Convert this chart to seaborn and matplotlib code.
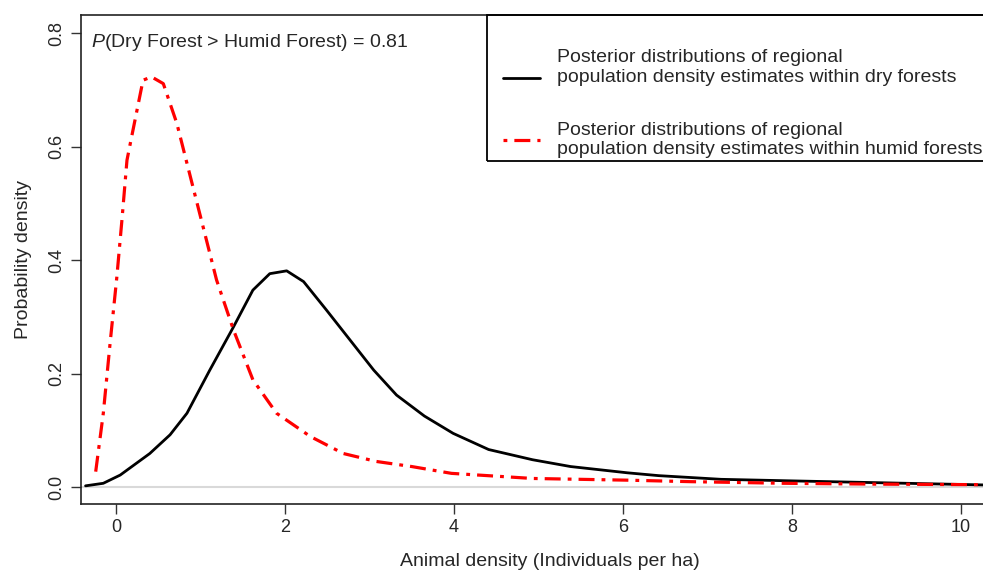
import numpy as np
import pandas as pd
import seaborn as sns
import matplotlib.pyplot as plt
from matplotlib.patches import Rectangle
from matplotlib.lines import Line2D
from matplotlib.legend_handler import HandlerLine2D

# posterior density curves
dry_x = [-0.36, -0.15, 0.05, 0.40, 0.64, 0.84, 1.11, 1.39, 1.62, 1.82, 2.02, 2.22,
         2.49, 2.77, 3.05, 3.32, 3.65, 3.99, 4.41, 4.93, 5.38, 6.05, 6.42, 7.16,
         8.05, 9.0, 10.3]
dry_y = [0.002, 0.0065, 0.021, 0.059, 0.092, 0.13, 0.206, 0.282, 0.347, 0.376, 0.381, 0.362,
         0.312, 0.259, 0.206, 0.162, 0.125, 0.0945, 0.066, 0.048, 0.036, 0.025, 0.020, 0.0135,
         0.0106, 0.0076, 0.0035]

humid_x = [-0.24, -0.15, -0.07, 0.01, 0.07, 0.13, 0.17, 0.32, 0.42, 0.56, 0.72, 0.88,
           1.03, 1.19, 1.39, 1.62, 1.90, 2.30, 2.69, 3.08, 3.5, 3.97, 4.93, 6.05,
           6.79, 7.9, 9.0, 10.3]
humid_y = [0.027, 0.13, 0.253, 0.37, 0.47, 0.576, 0.606, 0.717, 0.723, 0.711, 0.641, 0.547,
           0.459, 0.365, 0.277, 0.189, 0.130, 0.089, 0.059, 0.045, 0.036, 0.024, 0.015, 0.012,
           0.0094, 0.0065, 0.005, 0.004]

x_ticks = [0, 2, 4, 6, 8, 10]
y_ticks = [0.0, 0.2, 0.4, 0.6, 0.8]

label_dry = "Posterior distributions of regional\npopulation density estimates within dry forests"
label_humid = "Posterior distributions of regional\npopulation density estimates within humid forests"
annot = r"$\mathit{P}$(Dry Forest > Humid Forest) = 0.81"


class ShiftedLine(HandlerLine2D):
    # moves the legend sample down so it sits on the second text line
    def __init__(self, dy, **kw):
        super().__init__(**kw)
        self.dy = dy

    def create_artists(self, legend, orig_handle, xdescent, ydescent, width, height,
                       fontsize, trans):
        return super().create_artists(legend, orig_handle, xdescent, ydescent + self.dy,
                                      width, height, fontsize, trans)


sns.set_style("ticks")
plt.rcParams['font.family'] = ['Liberation Sans', 'DejaVu Sans']
plt.rcParams['mathtext.fontset'] = 'custom'
plt.rcParams['mathtext.rm'] = 'Liberation Sans'
plt.rcParams['mathtext.it'] = 'Liberation Sans:italic'

fig = plt.figure(figsize=(9.83, 5.70), dpi=100)
ax = fig.add_axes([0.0824, 0.1158, 1 - 0.0824, 0.9737 - 0.1158])

ax.axhline(0, color='#d9d9d9', lw=1.5, zorder=0)

sns.lineplot(x=dry_x, y=dry_y, color='black', linewidth=2.0, ax=ax)
sns.lineplot(x=humid_x, y=humid_y, color='#ff0000', linewidth=2.3, ax=ax)
ax.lines[-1].set_dashes([5.0, 2.2, 1.2, 2.2])

ax.set_xlim(-0.414, 10.26)
ax.set_ylim(-0.030, 0.832)
ax.set_xticks(x_ticks)
ax.set_yticks(y_ticks)
ax.set_yticklabels([f"{v:.1f}" for v in y_ticks], rotation=90, va='center')
ax.tick_params(axis='both', labelsize=13, length=7, width=1, pad=4, color='#333333')

for s in ['left', 'bottom', 'top']:
    ax.spines[s].set_linewidth(1.2)
    ax.spines[s].set_color('#222222')
ax.spines['right'].set_visible(False)

ax.set_xlabel("Animal density (Individuals per ha)", fontsize=14)
ax.set_ylabel("Probability density", fontsize=14)
ax.xaxis.set_label_coords(0.52, -0.1166)
ax.xaxis.label.set_va('center')
ax.yaxis.set_label_coords(-0.0640, 0.5)
ax.yaxis.label.set_va('center')

ax.text(0.011, 0.943, annot, transform=ax.transAxes, fontsize=14, va='center', ha='left')

# legend box (runs off the right edge like the original)
ax.add_patch(Rectangle((0.45, 0.7014), 0.7, 0.2986, transform=ax.transAxes,
                       fill=False, edgecolor='black', lw=1.3, clip_on=False, zorder=5))
h_dry = Line2D([], [], color='black', lw=2.0)
h_humid = Line2D([], [], color='#ff0000', lw=2.3, dashes=[1.2, 2.2, 5.0, 2.2])
ax.legend([h_dry, h_humid], [label_dry, label_humid], loc='upper left',
          bbox_to_anchor=(0.468, 0.9305), frameon=False, fontsize=14,
          borderpad=0, borderaxespad=0, handlelength=1.9, handletextpad=0.87,
          labelspacing=1.85, handler_map={h_dry: ShiftedLine(15.8)})

fig.savefig('out.png', dpi=100)
